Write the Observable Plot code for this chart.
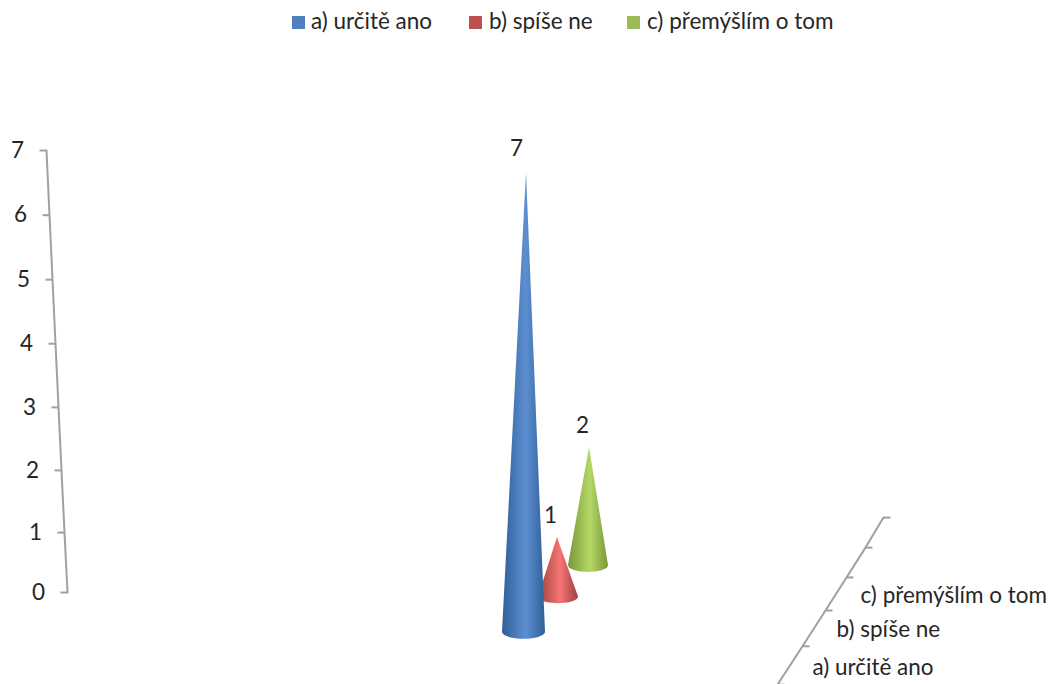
<!DOCTYPE html>
<html lang="cs">
<head>
<meta charset="utf-8">
<script src="https://cdn.jsdelivr.net/npm/d3@7"></script>
<script src="https://cdn.jsdelivr.net/npm/@observablehq/plot@0.6"></script>
<style>
  html, body { margin: 0; padding: 0; background: #fff; overflow: hidden; }
  body { font-family: Lato, "Open Sans", sans-serif; color: #262626; }
  #legend { height: 44px; position: relative; font-size: 22.5px; line-height: 42px; }
  #legend span { position: absolute; top: 0; white-space: nowrap; }
  #legend i { position: absolute; top: 16px; width: 13px; height: 13px; }
  svg { display: block; }
</style>
</head>
<body>
<div id="legend"></div>
<div id="chart"></div>
<script>
// Answer options and how many respondents chose each
const categories = ["a) určitě ano", "b) spíše ne", "c) přemýšlím o tom"];
const values = [7, 1, 2];
const legendColors = ["#4f81bd", "#c0504d", "#9bbb59"];
const legendSwatchX = [292, 469, 627];
const legendTextX = [311, 489, 647];

// Cone gradients: edge, centre and far edge of each series
const coneShades = [
  ["#2f5f98", "#5d8fd2", "#2f5f98"],
  ["#a23f3d", "#f57573", "#a23f3d"],
  ["#7a973a", "#b4d866", "#7a973a"]
];

// Oblique view of the floor: where each cone stands and how depth foreshortens it
const coneBaseX = [523.5, 558, 588];
const coneApexX = [526, 557, 589];
const coneRadius = [21.5, 20, 20];
const coneBaseLevel = [-0.67, -0.08, 0.46];
const coneForeshortening = [1.046, 1.0, 0.95];
const coneEllipseLevels = 0.115;
const valueLabelDx = [-10, -7, -7];
const valueLabelDy = [-24, -22, -22];

// Value wall axis, leaning towards the left
const valueTicks = [0, 1, 2, 3, 4, 5, 6, 7];
const valueAxisX = [67, 64, 61, 58, 55, 52, 49, 46];
const valueLabelOffset = 29;

// Depth axis running off the floor towards the viewer
const depthAxisX = [883, 865, 846, 825, 802, 777];
const depthAxisLevel = [1.243, 0.755, 0.26, -0.31, -0.9, -1.52];
const depthLabelX = [812, 836, 860];
const depthLabelLevel = [-1.25, -0.63, -0.06];

const tickLength = 7;
const fontSize = 22.5;
const axisColor = "#a0a0a0";
const axisWidth = 2;
const textColor = "#262626";

// Legend row above the chart
const legend = d3.select("#legend");
categories.forEach((c, i) => {
  legend.append("i").style("left", legendSwatchX[i] + "px").style("background", legendColors[i]);
  legend.append("span").style("left", legendTextX[i] + "px").text(c);
});

// Outline of a cone as rows of left/right edges: apex, widest line, then the near rim
function coneRows(i) {
  const base = coneBaseLevel[i];
  const top = base + values[i] * coneForeshortening[i];
  const cx = coneBaseX[i], r = coneRadius[i];
  const rows = [{level: top, x1: coneApexX[i], x2: coneApexX[i]}];
  for (let t = 0; t <= 1.0001; t += 0.1) {
    const a = t * Math.PI / 2;
    rows.push({
      level: base - coneEllipseLevels * Math.sin(a),
      x1: cx - r * Math.cos(a),
      x2: cx + r * Math.cos(a)
    });
  }
  return rows;
}

// Horizontal shading shared by the cone fills
const gradients = () => {
  const ns = "http://www.w3.org/2000/svg";
  const defs = document.createElementNS(ns, "defs");
  coneShades.forEach((shade, i) => {
    const g = document.createElementNS(ns, "linearGradient");
    g.setAttribute("id", "cone" + i);
    [[0, shade[0]], [0.55, shade[1]], [1, shade[2]]].forEach(([o, c]) => {
      const s = document.createElementNS(ns, "stop");
      s.setAttribute("offset", o);
      s.setAttribute("stop-color", c);
      g.appendChild(s);
    });
    defs.appendChild(g);
  });
  return defs;
};

const order = [2, 1, 0]; // far cones first so the nearest overlaps them

const chart = Plot.plot({
  width: 1054,
  height: 640,
  margin: 0,
  style: {fontFamily: "Lato, 'Open Sans', sans-serif", fontSize: fontSize + "px", background: "#fff", overflow: "hidden"},
  x: {axis: null, type: "linear", domain: [0, 1054], range: [0, 1054]},
  y: {axis: null, type: "pow", exponent: 1.027, domain: [0, 7], range: [548, 106]},
  marks: [
    gradients,

    // value axis
    Plot.line(valueTicks, {x: (d, i) => valueAxisX[i], y: d => d, stroke: axisColor, strokeWidth: axisWidth}),
    Plot.link(valueTicks, {
      x1: (d, i) => valueAxisX[i] - tickLength, x2: (d, i) => valueAxisX[i],
      y1: d => d, y2: d => d, stroke: axisColor, strokeWidth: axisWidth
    }),
    Plot.text(valueTicks, {
      x: (d, i) => valueAxisX[i] - valueLabelOffset, y: d => d, text: d => String(d),
      fill: textColor, fontSize, textAnchor: "middle"
    }),

    // depth axis
    Plot.line(depthAxisX, {x: d => d, y: (d, i) => depthAxisLevel[i], stroke: axisColor, strokeWidth: axisWidth}),
    Plot.link(depthAxisX, {
      x1: d => d, x2: d => d + tickLength,
      y1: (d, i) => depthAxisLevel[i], y2: (d, i) => depthAxisLevel[i], stroke: axisColor, strokeWidth: axisWidth
    }),
    Plot.text(categories, {
      x: (d, i) => depthLabelX[i], y: (d, i) => depthLabelLevel[i], text: d => d,
      fill: textColor, fontSize, textAnchor: "start"
    }),

    // cones
    ...order.map(i => Plot.areaX(coneRows(i), {
      y: "level", x1: "x1", x2: "x2", fill: `url(#cone${i})`, curve: "linear"
    })),

    // value labels above the apexes
    ...values.map((v, i) => Plot.text([v], {
      x: () => coneApexX[i],
      y: d => coneBaseLevel[i] + d * coneForeshortening[i],
      text: d => String(d), dx: valueLabelDx[i], dy: valueLabelDy[i],
      fill: textColor, fontSize, textAnchor: "middle"
    }))
  ]
});
document.getElementById("chart").appendChild(chart);
</script>
</body>
</html>
